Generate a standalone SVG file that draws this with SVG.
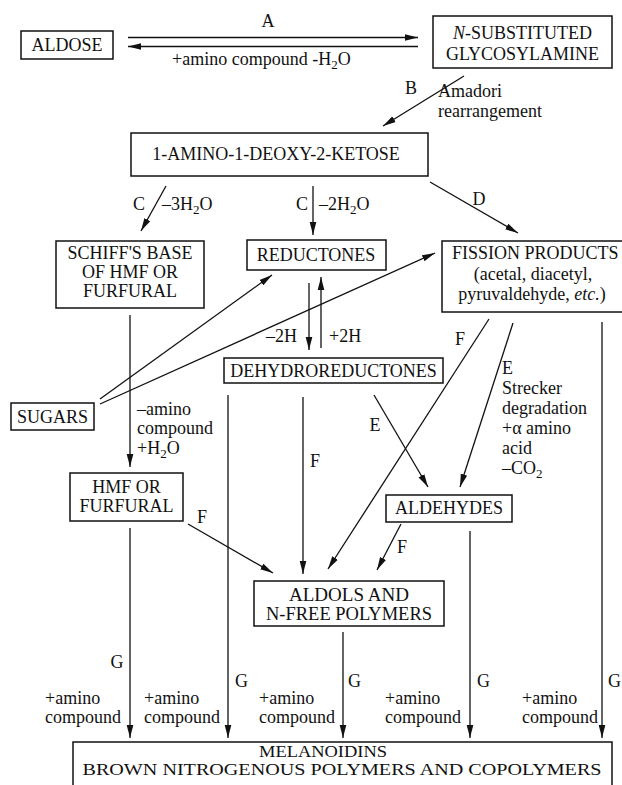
<svg xmlns="http://www.w3.org/2000/svg" width="622" height="785" viewBox="0 0 622 785">
<style>
text{font-family:"Liberation Serif","Times New Roman",serif;font-size:18px;fill:#111}
.c{text-anchor:middle}
.e{text-anchor:end}
.box{fill:#fff;stroke:#111;stroke-width:1.5}
.ln{stroke:#111;stroke-width:1.3;fill:none;marker-end:url(#ah)}
.sub{font-size:13px}
.sm{font-size:16px}
</style>
<defs>
<marker id="ah" viewBox="0 0 13 8" refX="13" refY="4" markerWidth="13" markerHeight="8" orient="auto" markerUnits="userSpaceOnUse">
<path d="M0,0.7 L13,4 L0,7.3 z" fill="#111"/>
</marker>
</defs>
<rect width="622" height="785" fill="#fff"/>

<g id="connectors">
<line class="ln" x1="128" y1="37.5" x2="418" y2="37.5"/>
<line class="ln" x1="418" y1="46.5" x2="128" y2="46.5"/>
<line class="ln" x1="464" y1="76" x2="383" y2="126"/>
<line class="ln" x1="166" y1="186" x2="141" y2="231"/>
<line class="ln" x1="313" y1="186" x2="313" y2="235"/>
<line class="ln" x1="430" y1="182" x2="518" y2="233"/>
<line class="ln" x1="100" y1="399" x2="272" y2="275"/>
<line class="ln" x1="100" y1="404" x2="435" y2="253"/>
<line class="ln" x1="309" y1="283" x2="309" y2="350"/>
<line class="ln" x1="321" y1="348" x2="321" y2="277"/>
<line class="ln" x1="130" y1="315" x2="130" y2="467"/>
<line class="ln" x1="228" y1="395" x2="228" y2="738"/>
<line class="ln" x1="303" y1="397" x2="303" y2="574"/>
<line class="ln" x1="374" y1="395" x2="428" y2="487"/>
<line class="ln" x1="489" y1="319" x2="328" y2="569"/>
<line class="ln" x1="513" y1="323" x2="460" y2="487"/>
<line class="ln" x1="602" y1="322" x2="602" y2="738"/>
<line class="ln" x1="188" y1="524" x2="273" y2="573"/>
<line class="ln" x1="401" y1="524" x2="377" y2="570"/>
<line class="ln" x1="130" y1="528" x2="130" y2="738"/>
<line class="ln" x1="343" y1="632" x2="343" y2="738"/>
<line class="ln" x1="470" y1="531" x2="470" y2="738"/>
</g>

<g id="labels">
<text class="c" x="268" y="27">A</text>
<text x="172" y="65">+amino compound -H<tspan class="sub" dy="4">2</tspan><tspan dy="-4">O</tspan></text>
<text class="c" x="411" y="94">B</text>
<text x="438" y="97">Amadori</text>
<text x="438" y="117">rearrangement</text>
<text class="c" x="139" y="210">C</text>
<text x="162" y="210">–3H<tspan class="sub" dy="4">2</tspan><tspan dy="-4">O</tspan></text>
<text class="c" x="302" y="210">C</text>
<text x="319" y="210">–2H<tspan class="sub" dy="4">2</tspan><tspan dy="-4">O</tspan></text>
<text class="c" x="479" y="205">D</text>
<text class="e" x="297" y="342">–2H</text>
<text x="329" y="342">+2H</text>
<text x="137" y="415">–amino</text>
<text x="137" y="434">compound</text>
<text x="137" y="454">+H<tspan class="sub" dy="4">2</tspan><tspan dy="-4">O</tspan></text>
<text x="310" y="467">F</text>
<text class="c" x="375" y="431">E</text>
<text class="c" x="460" y="345">F</text>
<text x="502" y="374">E</text>
<text x="502" y="394">Strecker</text>
<text x="502" y="414">degradation</text>
<text x="502" y="434">+α amino</text>
<text x="502" y="454">acid</text>
<text x="502" y="474">–CO<tspan class="sub" dy="4">2</tspan></text>
<text class="c" x="202" y="523">F</text>
<text class="c" x="402" y="553">F</text>
<text class="c" x="117" y="668">G</text>
<text x="235" y="687">G</text>
<text x="348" y="687">G</text>
<text x="477" y="687">G</text>
<text x="608" y="687">G</text>
<text x="45" y="704">+amino</text>
<text x="45" y="723">compound</text>
<text x="144" y="704">+amino</text>
<text x="144" y="723">compound</text>
<text x="259" y="704">+amino</text>
<text x="259" y="723">compound</text>
<text x="385" y="704">+amino</text>
<text x="385" y="723">compound</text>
<text x="522" y="704">+amino</text>
<text x="522" y="723">compound</text>
</g>

<g id="aldose">
<rect class="box" x="21" y="31" width="92" height="28"/>
<text class="c" x="67" y="51">ALDOSE</text>
</g>
<g id="glycosylamine">
<rect class="box" x="433" y="16" width="179" height="52"/>
<text class="c" x="522.5" y="39"><tspan font-style="italic">N</tspan>-SUBSTITUTED</text>
<text class="c" x="522.5" y="60">GLYCOSYLAMINE</text>
</g>
<g id="ketose">
<rect class="box" x="131" y="133" width="297" height="43"/>
<text class="c" x="276" y="160">1-AMINO-1-DEOXY-2-KETOSE</text>
</g>
<g id="schiff">
<rect class="box" x="56" y="241" width="148" height="67"/>
<text class="c" x="130" y="259">SCHIFF'S BASE</text>
<text class="c" x="130" y="278">OF HMF OR</text>
<text class="c" x="130" y="297">FURFURAL</text>
</g>
<g id="reductones">
<rect class="box" x="247" y="240" width="139" height="30"/>
<text class="c" x="316" y="261">REDUCTONES</text>
</g>
<g id="fission">
<rect class="box" x="442" y="241" width="184" height="71"/>
<text x="452" y="259">FISSION PRODUCTS</text>
<text class="c" x="533" y="280">(acetal, diacetyl,</text>
<text class="c" x="532" y="300">pyruvaldehyde, <tspan font-style="italic">etc.</tspan>)</text>
</g>
<g id="sugars">
<rect class="box" x="11" y="403" width="83" height="27"/>
<text class="c" x="52.5" y="423">SUGARS</text>
</g>
<g id="dehydroreductones">
<rect class="box" x="224" y="358" width="219" height="25"/>
<text class="c" x="333.5" y="377">DEHYDROREDUCTONES</text>
</g>
<g id="hmf">
<rect class="box" x="70" y="473" width="113" height="48"/>
<text class="c" x="126.5" y="493">HMF OR</text>
<text class="c" x="126.5" y="512">FURFURAL</text>
</g>
<g id="aldehydes">
<rect class="box" x="386" y="495" width="126" height="27"/>
<text class="c" x="449" y="514">ALDEHYDES</text>
</g>
<g id="aldols">
<rect class="box" x="254" y="581" width="190" height="45"/>
<text class="c" x="349" y="601" font-size="17" textLength="120" lengthAdjust="spacingAndGlyphs">ALDOLS AND</text>
<text class="c" x="349" y="620" font-size="17" textLength="166" lengthAdjust="spacingAndGlyphs">N-FREE POLYMERS</text>
</g>
<g id="melanoidins">
<rect class="box" x="73" y="742" width="539" height="60"/>
<text class="c sm" x="323" y="757" textLength="128" lengthAdjust="spacingAndGlyphs">MELANOIDINS</text>
<text class="c sm" x="342" y="775" textLength="519" lengthAdjust="spacingAndGlyphs">BROWN NITROGENOUS POLYMERS AND COPOLYMERS</text>
</g>
</svg>
